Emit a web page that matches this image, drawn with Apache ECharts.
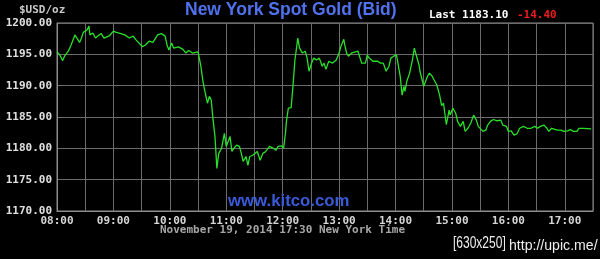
<!DOCTYPE html>
<html>
<head>
<meta charset="utf-8">
<script src="https://cdn.jsdelivr.net/npm/echarts@6/dist/echarts.min.js"></script>
<style>
html,body{margin:0;padding:0;background:#000;}
#c{width:600px;height:259px;}
</style>
</head>
<body>
<div id="c"></div>
<script>
const times = ["08:00","08:03","08:06","08:08","08:12","08:15","08:19","08:21","08:24","08:26","08:28","08:30","08:32","08:34","08:35","08:38","08:41","08:44","08:47","08:50","08:52","08:56",
"09:00","09:03","09:08","09:12","09:17","09:21","09:24","09:26","09:31","09:34","09:38","09:42","09:47","09:51","09:55","09:57","09:59",
"10:02","10:04","10:09","10:14","10:17","10:20","10:24","10:26","10:30","10:33","10:35","10:37","10:40","10:42","10:44","10:46","10:48","10:50","10:52","10:55","10:58",
"11:00","11:02","11:04","11:06","11:08","11:11","11:14","11:16","11:18","11:21","11:23","11:25","11:28","11:30","11:33","11:36","11:39","11:42","11:46","11:50","11:53","11:55","11:59",
"12:01","12:03","12:04","12:06","12:09","12:11","12:13","12:15","12:16","12:18","12:21","12:24","12:26","12:28","12:31","12:33","12:36","12:39","12:42","12:44","12:46","12:49","12:50","12:53","12:57",
"13:00","13:02","13:05","13:06","13:08","13:10","13:13","13:15","13:20","13:22","13:24","13:28","13:30","13:32","13:36","13:38","13:41","13:44","13:47","13:50","13:53","13:55","13:58",
"14:01","14:03","14:05","14:07","14:09","14:10","14:12","14:15","14:18","14:20","14:22","14:25","14:26","14:30","14:32","14:34","14:36","14:39","14:41","14:44","14:47","14:49","14:51","14:54","14:57","14:58",
"15:01","15:04","15:06","15:09","15:12","15:14","15:17","15:20","15:23","15:26","15:28","15:30","15:33","15:36","15:38","15:41","15:44","15:48","15:52","15:54","15:58",
"16:00","16:03","16:06","16:09","16:12","16:16","16:20","16:24","16:28","16:31","16:34","16:38","16:41","16:43","16:46","16:48","16:52","16:56","16:59",
"17:03","17:06","17:09","17:13","17:15","17:20","17:28"];
const bids = [1195.4,1194.9,1194.0,1194.7,1195.5,1196.5,1198.1,1197.9,1196.9,1197.6,1198.5,1198.3,1198.9,1199.5,1198.1,1198.4,1197.6,1198.0,1198.3,1197.6,1197.3,1198.0,
1198.7,1198.5,1198.3,1198.1,1197.6,1197.9,1197.3,1197.3,1196.2,1196.5,1197.1,1196.9,1198.1,1198.3,1197.9,1196.5,1195.7,
1196.8,1196.0,1196.2,1195.8,1195.2,1195.6,1195.2,1195.4,1195.4,1193.1,1190.9,1189.3,1187.2,1188.3,1187.7,1184.5,1181.9,1176.8,1179.2,1180.0,1182.4,
1180.3,1180.0,1181.9,1179.5,1180.0,1180.5,1180.3,1179.2,1177.9,1178.7,1177.3,1178.7,1178.9,1179.2,1179.5,1178.1,1179.2,1179.5,1180.3,1180.0,1179.7,1180.3,1180.4,
1180.0,1182.5,1184.3,1186.4,1186.5,1190.0,1194.1,1196.3,1197.6,1196.0,1195.2,1195.5,1194.4,1192.3,1193.7,1194.4,1194.1,1194.4,1193.1,1193.6,1192.6,1193.9,1194.1,1193.6,1194.1,
1195.2,1196.3,1197.4,1196.5,1195.2,1194.7,1195.2,1195.5,1195.5,1195.2,1193.6,1193.6,1194.9,1194.4,1193.9,1194.1,1193.9,1193.6,1193.6,1192.3,1193.1,1194.4,1194.7,
1194.9,1195.0,1191.5,1188.5,1189.9,1189.1,1190.7,1192.0,1194.1,1196.0,1194.9,1193.3,1192.3,1189.9,1190.7,1191.5,1192.0,1191.5,1190.9,1190.1,1188.4,1186.8,1187.2,1183.8,1186.1,1185.3,
1186.4,1185.6,1184.3,1183.5,1184.3,1182.7,1183.2,1184.0,1185.3,1184.5,1183.5,1183.2,1182.7,1182.9,1183.7,1184.3,1184.6,1184.4,1184.5,1183.7,1183.5,
1182.7,1182.8,1182.1,1182.3,1183.2,1183.5,1183.2,1183.2,1183.5,1183.2,1183.5,1183.7,1183.2,1182.7,1183.2,1183.2,1182.9,1182.9,1182.7,
1182.8,1183.0,1182.7,1182.7,1183.2,1183.2,1183.1];
const hourLabels = ["08:00","09:00","10:00","11:00","12:00","13:00","14:00","15:00","16:00","17:00"];
const startMin = 8 * 60;

function toMin(t){ const p = t.split(':'); return (+p[0]) * 60 + (+p[1]) - startMin; }
const seriesData = times.map((t, i) => [toMin(t), bids[i]]);

const mono = '"DejaVu Sans Mono", monospace';
const chart = echarts.init(document.getElementById('c'), null, {renderer: 'canvas'});
chart.setOption({
  backgroundColor: '#000',
  animation: false,
  grid: {left: 57, right: 7, top: 23, bottom: 48, show: true, borderColor: '#8e8e8e', borderWidth: 1, backgroundColor: 'transparent'},
  xAxis: {
    type: 'value', min: 0, max: 570, interval: 30,
    axisLine: {show: true, lineStyle: {color: '#8e8e8e', width: 1}},
    axisTick: {show: false},
    splitLine: {show: true, lineStyle: {color: '#6c6c6c', width: 1}},
    axisLabel: {
      color: '#d6d6d6', fontFamily: mono, fontSize: 11, fontWeight: 'bold', margin: 5,
      showMaxLabel: false,
      formatter: v => (v % 60 === 0 ? (hourLabels[v / 60] || '') : '')
    }
  },
  yAxis: {
    type: 'value', min: 1170, max: 1200, interval: 5,
    axisLine: {show: true, lineStyle: {color: '#8e8e8e', width: 1}},
    axisTick: {show: false},
    splitLine: {show: true, lineStyle: {color: '#6c6c6c', width: 1}},
    axisLabel: {color: '#e0e0e0', fontFamily: mono, fontSize: 11, fontWeight: 'bold', margin: 5,
      formatter: v => v.toFixed(2)}
  },
  series: [{
    type: 'line', data: seriesData, showSymbol: false, symbol: 'none',
    lineStyle: {color: '#28e028', width: 1.3}, z: 5
  }],
  graphic: [
    {type: 'text', left: 19, top: 5, style: {text: '$USD/oz', fill: '#c8c8c8', font: 'bold 11px ' + mono}},
    {type: 'text', left: 185, top: 1, style: {text: 'New York Spot Gold (Bid)', fill: '#5072ee', font: 'bold 17.5px "Liberation Sans", Arial, sans-serif'}},
    {type: 'text', left: 429, top: 10, style: {text: 'Last 1183.10', fill: '#ffffff', font: 'bold 11px ' + mono}},
    {type: 'text', left: 517, top: 10, style: {text: '-14.40', fill: '#ee1c1c', font: 'bold 11px ' + mono}},
    {type: 'text', left: 228, top: 193, z: 10, style: {text: 'www.kitco.com', fill: '#3a5ad8', font: 'bold 16.8px "Liberation Sans", Arial, sans-serif'}},
    {type: 'text', left: 160, top: 225, style: {text: 'November 19, 2014 17:30 New York Time', fill: '#a6a6a6', font: 'bold 11px ' + mono}},
    {type: 'text', x: 453, y: 236, scaleX: 0.75, style: {text: '[630x250]', fill: '#eeeeee', font: '16px "Liberation Sans", Arial, sans-serif'}},
    {type: 'text', x: 509, y: 238, scaleX: 0.94, style: {text: 'http://upic.me/', fill: '#eeeeee', font: '15px "Liberation Sans", Arial, sans-serif'}}
  ]
});
</script>
</body>
</html>
